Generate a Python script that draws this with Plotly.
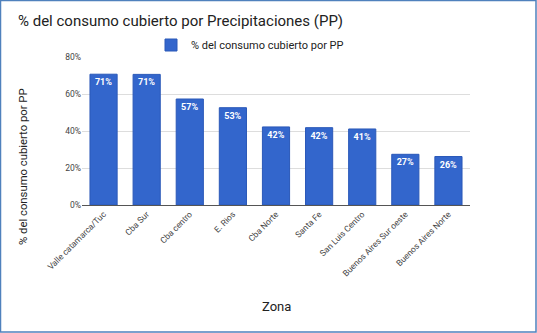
import plotly.graph_objects as go

zonas = ["Valle catamarca/Tuc", "Cba Sur", "Cba centro", "E. Rios", "Cba Norte",
         "Santa Fe", "San Luis Centro", "Buenos Aires Sur oeste", "Buenos Aires Norte"]
valores = [0.707, 0.706, 0.573, 0.526, 0.422, 0.418, 0.411, 0.274, 0.262]
y_ticks = [0, 0.2, 0.4, 0.6, 0.8]
y_ticktext = ["0%", "20%", "40%", "60%", "80%"]

W, H = 537, 333
L, R, T, B = 82, 67, 57, 128
pw, ph = W - L - R, H - T - B

def px_x(x):
    return (x - L) / pw

def px_y(y):
    return (H - B - y) / ph

fig = go.Figure()
fig.add_trace(go.Bar(
    x=zonas, y=valores,
    name="% del consumo cubierto por PP",
    marker=dict(color="#3366cc", line=dict(color="#2a58b8", width=1)),
    text=[f"<b>{round(v*100)}%</b>" for v in valores],
    textposition="inside", insidetextanchor="end",
    textfont=dict(color="white", size=9, family="Roboto"),
    textangle=0,
    showlegend=True,
))

fig.update_layout(
    width=W, height=H,
    margin=dict(l=L, r=R, t=T, b=B, autoexpand=False),
    paper_bgcolor="white", plot_bgcolor="white",
    font=dict(family="Roboto", color="#444444"),
    title=dict(text="% del consumo cubierto por Precipitaciones (PP)",
               x=18 / W, xanchor="left", y=1 - 21 / H, yanchor="middle",
               font=dict(size=15, color="#222222", family="Roboto")),
    legend=dict(orientation="h", x=px_x(250), xanchor="center",
                y=px_y(45), yanchor="middle",
                font=dict(size=11, color="#222222"),
                itemwidth=30, bgcolor="rgba(0,0,0,0)"),
    bargap=0.37,
    xaxis=dict(tickangle=-45, tickfont=dict(size=8.5, color="#444444"),
               automargin=False,
               showgrid=False, showline=True, linecolor="#555555", linewidth=1,
               ticks=""),
    yaxis=dict(range=[0, 0.8], tickvals=y_ticks, ticktext=y_ticktext,
               automargin=False,
               tickfont=dict(size=8.5, color="#444444"),
               gridcolor="#dddddd", gridwidth=1, zeroline=False, ticks=""),
    annotations=[
        dict(text="Zona", xref="paper", yref="paper", x=px_x(276), y=px_y(306),
             xanchor="center", yanchor="middle", showarrow=False,
             font=dict(size=13, color="#222222")),
        dict(text="% del consumo cubierto por PP", xref="paper", yref="paper",
             x=px_x(23), y=px_y(167), xanchor="center", yanchor="middle",
             textangle=-90, showarrow=False,
             font=dict(size=11.3, color="#222222")),
    ],
    shapes=[dict(type="rect", xref="paper", yref="paper",
                 x0=(-L + 0.5) / pw, x1=(pw + R - 1) / pw,
                 y0=(-B + 1) / ph, y1=(ph + T - 0.5) / ph,
                 line=dict(color="#4f81bd", width=1.5), fillcolor="rgba(0,0,0,0)")],
)

fig.write_html("out.html")
